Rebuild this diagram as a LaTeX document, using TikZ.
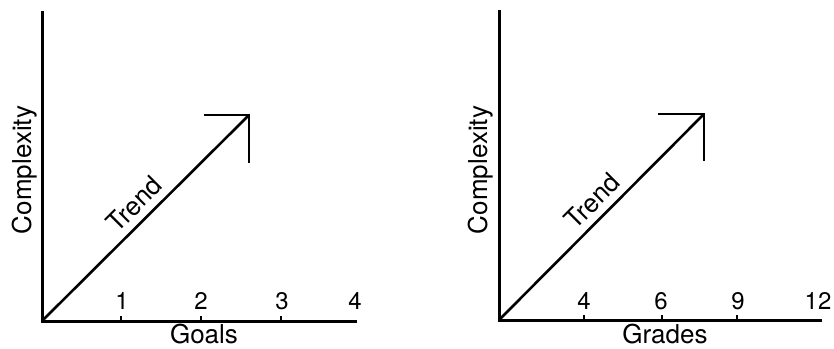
\documentclass[tikz,border=0pt]{standalone}
\usepackage{fontspec}
\setmainfont{TeX Gyre Heros}
\begin{document}
\begin{tikzpicture}[x=0.5pt,y=-0.5pt,
  axis/.style={line width=1.5pt,line cap=rect},
  trendline/.style={line width=1.3pt},
  tickmark/.style={line width=1.3pt},
  lbl/.style={font=\fontsize{13}{15}\selectfont,inner sep=0pt},
  ticklbl/.style={font=\fontsize{12}{14}\selectfont,inner sep=0pt}]
\useasboundingbox (0,0) rectangle (834,348);
% ---------- left panel ----------
\coordinate (Lo) at (42,321);
\coordinate (Ltop) at (42,12);
\coordinate (Lend) at (355,321);
\draw[axis] (Ltop) -- (Lo) -- (Lend);
\coordinate (Lt1) at (121,321);
\coordinate (Lt2) at (201,321);
\coordinate (Lt3) at (281,321);
\foreach \t in {Lt1,Lt2,Lt3} \draw[tickmark] (\t) -- ++(0,-5);
\node[ticklbl] (L1) at (122,301) {1};
\node[ticklbl] (L2) at (201,301) {2};
\node[ticklbl] (L3) at (282,301) {3};
\node[ticklbl] (L4) at (355,301) {4};
\node[lbl] (Lgoals) at (204,334) {Goals};
\node[lbl,rotate=90] (Lcx) at (25,170) {Complexity};
\coordinate (Ltip) at (249,115);
\coordinate (Lhl) at (204,115);
\coordinate (Lvb) at (249,163);
\draw[trendline] (Lo) -- (Ltip);
\draw[trendline,line join=miter] (Lhl) -- (Ltip) -- (Lvb);
\node[lbl,rotate=45] (Ltr) at (134,204) {Trend};
% ---------- right panel ----------
\coordinate (Ro) at (499,320);
\coordinate (Rtop) at (499,11);
\coordinate (Rend) at (820,320);
\draw[axis] (Rtop) -- (Ro) -- (Rend);
\coordinate (Rt1) at (584,320);
\coordinate (Rt2) at (662,320);
\coordinate (Rt3) at (737,320);
\foreach \t in {Rt1,Rt2,Rt3} \draw[tickmark] (\t) -- ++(0,-5);
\node[ticklbl] (R1) at (584,301) {4};
\node[ticklbl] (R2) at (661,301) {6};
\node[ticklbl] (R3) at (738,301) {9};
\node[ticklbl] (R4) at (818,301) {12};
\node[lbl] (Rgrades) at (665,334) {Grades};
\node[lbl,rotate=90] (Rcx) at (481,170) {Complexity};
\coordinate (Rtip) at (704,114);
\coordinate (Rhl) at (658,114);
\coordinate (Rvb) at (704,161);
\draw[trendline] (Ro) -- (Rtip);
\draw[trendline,line join=miter] (Rhl) -- (Rtip) -- (Rvb);
\node[lbl,rotate=45] (Rtr) at (592,201) {Trend};
\end{tikzpicture}
\end{document}
